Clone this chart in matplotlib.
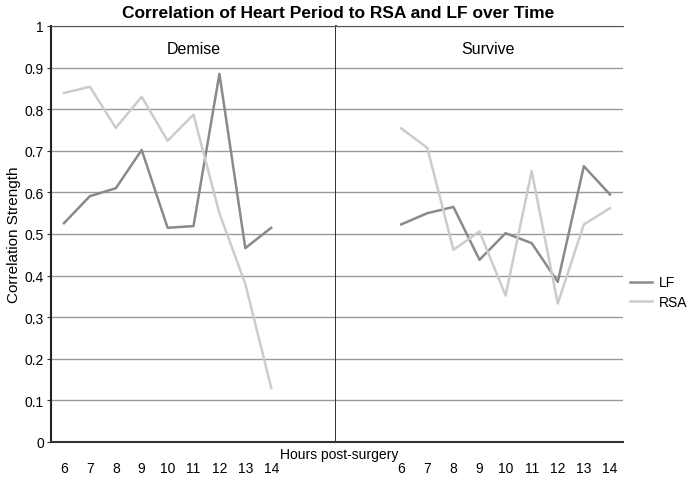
import matplotlib.pyplot as plt

plt.rcParams['font.family'] = ['Liberation Sans', 'DejaVu Sans']

hours = [6, 7, 8, 9, 10, 11, 12, 13, 14]
demise_lf = [0.526, 0.591, 0.610, 0.702, 0.515, 0.519, 0.885, 0.466, 0.515]
demise_rsa = [0.839, 0.854, 0.755, 0.830, 0.724, 0.787, 0.550, 0.380, 0.130]
survive_lf = [0.523, 0.550, 0.565, 0.438, 0.502, 0.478, 0.385, 0.663, 0.595]
survive_rsa = [0.754, 0.707, 0.462, 0.506, 0.352, 0.651, 0.333, 0.523, 0.562]
yticks = [0, 0.1, 0.2, 0.3, 0.4, 0.5, 0.6, 0.7, 0.8, 0.9, 1]
ylabels = ['0', '0.1', '0.2', '0.3', '0.4', '0.5', '0.6', '0.7', '0.8', '0.9', '1']

lf_color = '#8a8a8a'
rsa_color = '#cccccc'
grid_color = '#9a9a9a'

W, H = 694, 481
fig = plt.figure(figsize=(W / 100, H / 100), dpi=100)

# pixel layout of the two panels
left, mid, right, top, bottom = 51, 336, 623, 27, 443
ax1 = fig.add_axes([left / W, 1 - bottom / H, (mid - left) / W, (bottom - top) / H])
ax2 = fig.add_axes([mid / W, 1 - bottom / H, (right - mid) / W, (bottom - top) / H])

panels = [(ax1, demise_lf, demise_rsa, 'Demise', (5.5, 16.5)),
          (ax2, survive_lf, survive_rsa, 'Survive', (3.5, 14.5))]

for ax, lf, rsa, name, xl in panels:
    ax.plot(hours, lf, color=lf_color, lw=1.8, label='LF', zorder=3)
    ax.plot(hours, rsa, color=rsa_color, lw=1.8, label='RSA', zorder=3)
    ax.set_xlim(*xl)
    ax.set_ylim(0, 1)
    ax.set_yticks(yticks)
    ax.yaxis.grid(True, color=grid_color, lw=1)
    ax.set_axisbelow(True)
    ax.set_xticks(hours)
    ax.set_xticklabels([str(h) for h in hours], fontsize=10)
    ax.tick_params(axis='x', length=0, pad=14)
    ax.spines['top'].set_color('#555555')
    ax.spines['bottom'].set_color('#333333')
    ax.spines['bottom'].set_linewidth(1.5)
    ax.text(0.5 if name == 'Demise' else 0.53, 0.945, name, transform=ax.transAxes,
            ha='center', va='center', fontsize=11.5)

ax1.set_yticklabels(ylabels, fontsize=10)
ax1.tick_params(axis='y', length=3, pad=2, color='#333333')
ax1.spines['left'].set_color('#222222')
ax1.spines['left'].set_linewidth(1.5)
ax1.spines['right'].set_color('#222222')
ax1.spines['right'].set_linewidth(1.3)
ax1.set_ylabel('Correlation Strength', fontsize=11, labelpad=3)

ax2.tick_params(axis='y', length=0, labelleft=False)
ax2.spines['left'].set_visible(False)
ax2.spines['right'].set_visible(False)

fig.text(339 / W, 1 - 455 / H, 'Hours post-surgery', ha='center', va='center', fontsize=10)
fig.text(338 / W, 1 - 14 / H, 'Correlation of Heart Period to RSA and LF over Time',
         ha='center', va='center', fontsize=12.5, fontweight='bold')

ax2.legend(loc='center left', bbox_to_anchor=(0.98, 0.36), frameon=False,
           fontsize=10, handlelength=1.6, handletextpad=0.5, labelspacing=0.4)

fig.savefig('out.png', dpi=100)
